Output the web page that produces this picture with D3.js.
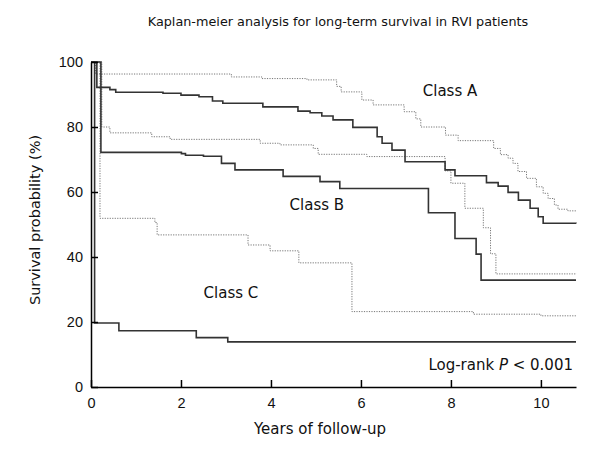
<!DOCTYPE html>
<html>
<head>
<meta charset="utf-8">
<script src="https://cdn.jsdelivr.net/npm/d3@7"></script>
<style>
  body { margin: 0; background: #fff; }
  svg { font-family: "DejaVu Sans", Verdana, sans-serif; }
  .axis path, .axis line { stroke: #000; stroke-width: 1.5px; }
  .axis text { font-size: 14.5px; fill: #111; }
  .est { fill: none; stroke: #333; stroke-width: 1.6px; }
  .ci { fill: none; stroke: #777; stroke-width: 1px; stroke-dasharray: 1.2,1.3; }
  .label { font-size: 15px; fill: #111; }
</style>
</head>
<body>
<svg id="chart" width="600" height="455"></svg>
<script>
// Kaplan-Meier estimates, [years, survival %], drawn as steps
var classA = [[0,100],[0.13,92.2],[0.42,91.5],[0.55,90.7],[1.6,90.4],[2.0,89.8],[2.4,89.3],[2.7,88],[2.93,87.3],[3.82,86.2],
    [4.6,84.9],[4.87,84.4],[5.13,83.4],[5.38,82.2],[5.82,79.9],[6.36,77],[6.47,75],[6.69,72.9],[6.98,69.3],
    [7.87,66.8],[8.09,65.0],[8.79,62.9],[9.05,61.8],[9.27,59.9],[9.5,57.5],[9.76,55],[9.94,52.4],[10.05,50.4],[10.78,50.3]];
var classB = [[0,100],[0.22,72.2],[2.01,71.8],[2.1,71.3],[2.5,71.0],[2.9,68.8],[3.2,66.8],[4.27,64.8],[5.09,63.2],
    [5.53,61.1],[7.5,53.6],[8.09,45.7],[8.56,40.9],[8.67,32.9],[10.78,32.9]];
var classC = [[0,100],[0.08,19.7],[0.62,17.3],[2.34,15.2],[3.04,13.9],[10.78,13.9]];

// 95% confidence limits (dotted)
var upperA = [[0,100],[0.1,96.3],[3.12,95.4],[3.8,94.9],[4.8,94.5],[5.46,92.5],[5.56,90.8],[6.02,88.3],[6.27,86.8],
    [6.96,84.7],[7.22,82.5],[7.33,80],[7.88,77.5],[8.16,75.8],[8.95,73.4],[9.1,71.5],[9.27,70.4],[9.38,68.8],
    [9.49,66.3],[9.68,64.2],[9.9,61.6],[10.05,59.6],[10.16,58],[10.3,56],[10.38,54.7],[10.6,54.2],[10.78,54.2]];
var upperB = [[0,100],[0.24,80],[0.42,78.2],[1.35,77],[1.76,76.2],[3.76,75],[4.2,74.5],[4.94,73.4],[5.05,71.6],
    [6.13,70.9],[7.87,66.5],[8.0,62.7],[8.31,55],[8.72,49],[8.88,41],[9.0,34.8],[10.78,35]];
var lowerB = [[0,100],[0.2,51.9],[1.42,50.6],[1.47,46.8],[3.49,43.7],[3.98,41.9],[4.62,38.2],[5.8,23.2],
    [8.5,22.4],[10.0,21.9],[10.78,21.6]];

var xTicks = [0, 2, 4, 6, 8, 10];
var yTicks = [0, 20, 40, 60, 80, 100];

var svg = d3.select("#chart");
var margin = {left: 91, top: 62, right: 24, bottom: 68};
var width = 600 - margin.left - margin.right,
    height = 455 - margin.top - margin.bottom;

var g = svg.append("g")
    .attr("transform", "translate(" + margin.left + "," + margin.top + ")");

var x = d3.scaleLinear().domain([0, 10.78]).range([0, width]);
var y = d3.scaleLinear().domain([0, 100]).range([height, 0]);

// step line for survival curves
var line = d3.line()
    .x(function(d) { return x(d[0]); })
    .y(function(d) { return y(d[1]); })
    .curve(d3.curveStepAfter);

[upperA, upperB, lowerB].forEach(function(s) {
    g.append("path").attr("class", "ci").attr("d", line(s));
});
[classA, classB, classC].forEach(function(s) {
    g.append("path").attr("class", "est").attr("d", line(s));
});

// axes with ticks pointing inwards
g.append("g")
    .attr("class", "axis x")
    .attr("transform", "translate(0," + height + ")")
    .call(d3.axisBottom(x).tickValues(xTicks).tickSizeInner(-7).tickSizeOuter(0).tickPadding(11));

g.append("g")
    .attr("class", "axis y")
    .call(d3.axisLeft(y).tickValues(yTicks).tickSizeInner(-7).tickSizeOuter(0).tickPadding(8));

// titles and annotations
svg.append("text")
    .attr("class", "label")
    .attr("x", 338).attr("y", 26)
    .attr("text-anchor", "middle")
    .style("font-size", "12.8px")
    .text("Kaplan-meier analysis for long-term survival in RVI patients");

svg.append("text")
    .attr("class", "label")
    .attr("x", 320).attr("y", 434)
    .attr("text-anchor", "middle")
    .text("Years of follow-up");

svg.append("text")
    .attr("class", "label")
    .attr("transform", "translate(40,220) rotate(-90)")
    .attr("text-anchor", "middle")
    .style("font-size", "14.5px")
    .text("Survival probability (%)");

var classLabels = [["Class A", 7.98, 89.5], ["Class B", 5.02, 54.5], ["Class C", 3.11, 27.4]];
classLabels.forEach(function(c) {
    g.append("text")
        .attr("class", "label")
        .attr("x", x(c[1])).attr("y", y(c[2]))
        .attr("text-anchor", "middle")
        .text(c[0]);
});

var lr = g.append("text")
    .attr("class", "label")
    .attr("x", width - 3).attr("y", y(5.2))
    .attr("text-anchor", "end");
lr.append("tspan").text("Log-rank ");
lr.append("tspan").style("font-style", "italic").text("P");
lr.append("tspan").text(" < 0.001");
</script>
</body>
</html>
